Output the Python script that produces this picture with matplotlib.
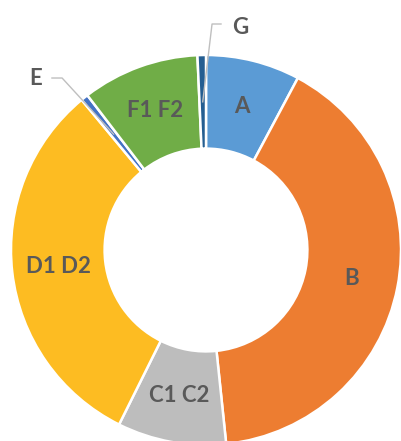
import matplotlib
matplotlib.use("Agg")
import matplotlib.pyplot as plt
import numpy as np

labels = ["A", "B", "C1 C2", "D1 D2", "E", "F1 F2", "G"]
values = [7.8, 40.5, 9.0, 31.6, 0.6, 9.7, 0.7]
colors = ["#5B9BD5", "#ED7D31", "#BDBDBD", "#FDBC22", "#4472C4", "#70AD47", "#255E91"]
inside = ["A", "B", "C1 C2", "D1 D2", "F1 F2"]

textColor = "#595959"
fontName = "Lato"
fontSize = 16

fig = plt.figure(figsize=(4.02, 4.41), dpi=100)
ax = fig.add_axes([0, 0, 1, 1])

ringWidth = 0.48
wedges, texts = ax.pie(values, labels=[l if l in inside else "" for l in labels],
                       colors=colors, startangle=90, counterclock=False, radius=1.0,
                       labeldistance=1 - ringWidth / 2,
                       wedgeprops=dict(width=ringWidth, edgecolor="white", linewidth=1.8),
                       textprops=dict(color=textColor, fontsize=fontSize, fontweight="bold",
                                      family=fontName))
for t in texts:
    t.set_ha("center")
    t.set_va("center")

# leader lines for the thin slices
midR = 1 - ringWidth / 2
callouts = {"E": ((-0.873, 0.882), (-0.790, 0.882), (-0.738, 0.882)),
            "G": ((0.174, 1.140), (0.077, 1.159), (0.031, 1.159))}
for w, lab in zip(wedges, labels):
    if lab not in callouts:
        continue
    ang = np.deg2rad((w.theta1 + w.theta2) / 2)
    tx, ty = midR * np.cos(ang), midR * np.sin(ang)
    textPos, lineStart, elbow = callouts[lab]
    ax.plot([lineStart[0], elbow[0], tx], [lineStart[1], elbow[1], ty],
            color="#BFBFBF", linewidth=1.0, zorder=5)
    ax.text(textPos[0], textPos[1], lab, color=textColor, fontsize=fontSize,
            fontweight="bold", family=fontName, ha="center", va="center")

ax.set_aspect("auto")
ax.set_xlim(-206 / 195, 196 / 195)
ax.set_ylim(-191 / 195, 250 / 195)
ax.axis("off")

fig.savefig("out.png", dpi=100, facecolor="white")
